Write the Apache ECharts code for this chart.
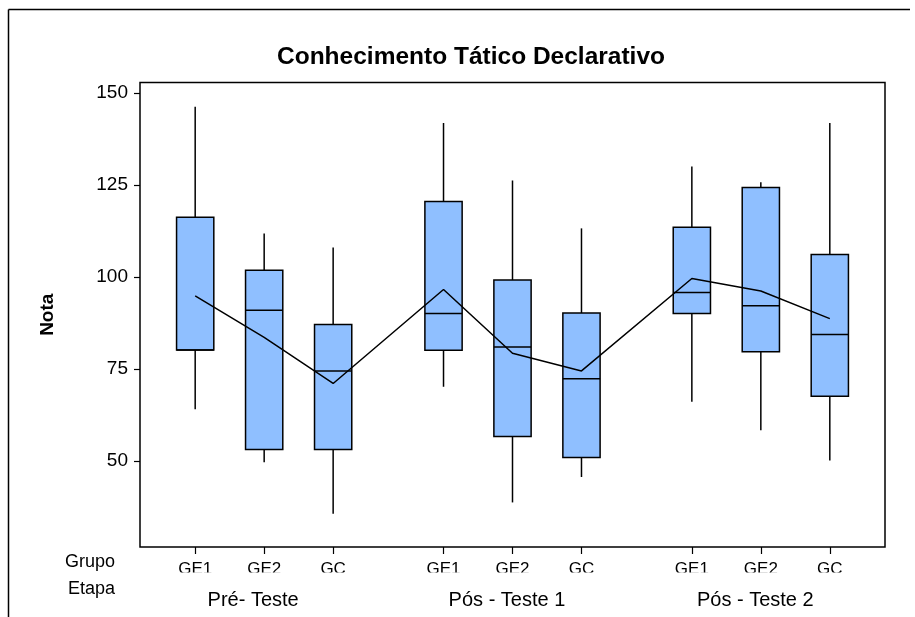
<!DOCTYPE html>
<html>
<head>
<meta charset="utf-8">
<script src="https://cdn.jsdelivr.net/npm/echarts@6/dist/echarts.min.js"></script>
<style>
  html, body { margin: 0; padding: 0; background: #fff; }
  #chart { width: 915px; height: 617px; }
</style>
</head>
<body>
<div id="chart"></div>
<script>
// Groups (Grupo) and stages (Etapa)
const grupos = ['GE1', 'GE2', 'GC', 'GE1', 'GE2', 'GC', 'GE1', 'GE2', 'GC'];
const etapas = ['Pré- Teste', 'Pós - Teste 1', 'Pós - Teste 2'];
// Horizontal slot of each box (three per stage, a wider gap between stages)
const slots = [0, 1, 2, 3.6, 4.6, 5.6, 7.2, 8.2, 9.2];
// Slot under which each stage name sits
const etapaSlots = [0.84, 4.52, 8.12];

// Box statistics per box: whisker low, Q1, median, Q3, whisker high
const whiskerLow  = [64.1, 49.7, 35.7, 70.2, 38.8, 45.7, 66.1, 58.4, 50.2];
const q1          = [80.2, 53.2, 53.2, 80.1, 56.7, 51.0, 90.1, 79.7, 67.6];
const medians     = [80.2, 91.0, 74.5, 90.1, 81.0, 72.4, 95.8, 92.2, 84.4];
const q3          = [116.2, 101.8, 87.1, 120.5, 99.2, 90.2, 113.5, 124.3, 106.1];
const whiskerHigh = [146.2, 111.8, 108.0, 141.8, 126.2, 113.2, 130.0, 125.7, 141.8];
// Mean of each box, joined by a line
const means       = [94.9, 83.6, 71.1, 96.6, 79.3, 74.5, 99.6, 96.2, 88.7];

const yTicks = [50, 75, 100, 125, 150];

const boxData = slots.map((s, i) => [s, whiskerLow[i], q1[i], medians[i], q3[i], whiskerHigh[i]]);
const meanData = slots.map((s, i) => [s, means[i]]);

const chart = echarts.init(document.getElementById('chart'), null, { renderer: 'canvas' });

const FONT = 'Liberation Sans, Arial, sans-serif';
const BOX_FILL = '#8fbfff';

function renderBox(params, api) {
  const x = api.value(0);
  const pLow = api.coord([x, api.value(1)]);
  const pQ1 = api.coord([x, api.value(2)]);
  const pMed = api.coord([x, api.value(3)]);
  const pQ3 = api.coord([x, api.value(4)]);
  const pHigh = api.coord([x, api.value(5)]);
  const halfW = api.size([0.54, 0])[0] / 2;
  const cx = pQ1[0];
  const lineStyle = { stroke: '#000', lineWidth: 1.5 };
  return {
    type: 'group',
    children: [
      { type: 'line', shape: { x1: cx, y1: pHigh[1], x2: cx, y2: pQ3[1] }, style: lineStyle },
      { type: 'line', shape: { x1: cx, y1: pQ1[1], x2: cx, y2: pLow[1] }, style: lineStyle },
      {
        type: 'rect',
        shape: { x: cx - halfW, y: pQ3[1], width: halfW * 2, height: pQ1[1] - pQ3[1] },
        style: { fill: BOX_FILL, stroke: '#000', lineWidth: 1.5 }
      },
      { type: 'line', shape: { x1: cx - halfW, y1: pMed[1], x2: cx + halfW, y2: pMed[1] }, style: lineStyle }
    ]
  };
}

const option = {
  backgroundColor: '#fff',
  animation: false,
  title: {
    text: 'Conhecimento Tático Declarativo',
    left: 466,
    top: 40,
    textAlign: 'center',
    textStyle: { fontFamily: FONT, fontSize: 24.5, fontWeight: 'bold', color: '#000' }
  },
  grid: {
    left: 140, top: 82.5, width: 745, height: 464.5,
    show: true, borderColor: '#000', borderWidth: 1.5, backgroundColor: '#fff'
  },
  xAxis: [
    {
      type: 'value', min: -0.8, max: 10.0,
      axisLine: { show: false, onZero: false },
      splitLine: { show: false },
      axisTick: { show: true, inside: false, length: 7, customValues: slots, lineStyle: { color: '#000', width: 1.2 } },
      axisLabel: {
        show: true, customValues: slots, margin: 13.5,
        fontFamily: FONT, fontSize: 17, color: '#000',
        formatter: (v) => grupos[slots.indexOf(v)] || ''
      }
    },
    {
      type: 'value', min: -0.8, max: 10.0, position: 'bottom',
      axisLine: { show: false, onZero: false },
      splitLine: { show: false },
      axisTick: { show: false, customValues: etapaSlots },
      axisLabel: {
        show: true, customValues: etapaSlots, margin: 43,
        fontFamily: FONT, fontSize: 20, color: '#000',
        formatter: (v) => etapas[etapaSlots.indexOf(v)] || ''
      }
    }
  ],
  yAxis: {
    type: 'value', min: 26.7, max: 152.8,
    name: 'Nota', nameLocation: 'middle', nameGap: 83, nameRotate: 90,
    nameTextStyle: { fontFamily: FONT, fontSize: 19, fontWeight: 'bold', color: '#000' },
    axisLine: { show: false, onZero: false },
    splitLine: { show: false },
    axisTick: { show: true, inside: false, length: 6, customValues: yTicks, lineStyle: { color: '#000', width: 1.2 } },
    axisLabel: { customValues: yTicks, margin: 12, fontFamily: FONT, fontSize: 19, color: '#000' }
  },
  series: [
    {
      type: 'custom',
      name: 'caixas',
      xAxisIndex: 0,
      renderItem: renderBox,
      encode: { x: 0, y: [1, 2, 3, 4, 5] },
      data: boxData,
      z: 2
    },
    {
      type: 'line',
      name: 'média',
      xAxisIndex: 0,
      data: meanData,
      showSymbol: false,
      symbol: 'none',
      lineStyle: { color: '#000', width: 1.5 },
      z: 3
    }
  ],
  graphic: [
    // outer frame (left and top edges)
    { type: 'line', shape: { x1: 8.5, y1: 9.5, x2: 910, y2: 9.5 }, style: { stroke: '#000', lineWidth: 1.5 } },
    { type: 'line', shape: { x1: 8.5, y1: 9.5, x2: 8.5, y2: 617 }, style: { stroke: '#000', lineWidth: 1.5 } },
    // white strip trimming the lower edge of the group labels
    { type: 'rect', shape: { x: 150, y: 572.5, width: 730, height: 12 }, style: { fill: '#fff' }, z: 100 },
    { type: 'text', left: 65, top: 553, style: { text: 'Grupo', font: '18px ' + FONT, fill: '#000' } },
    { type: 'text', left: 68, top: 580, style: { text: 'Etapa', font: '18px ' + FONT, fill: '#000' } }
  ]
};

chart.setOption(option);
</script>
</body>
</html>
